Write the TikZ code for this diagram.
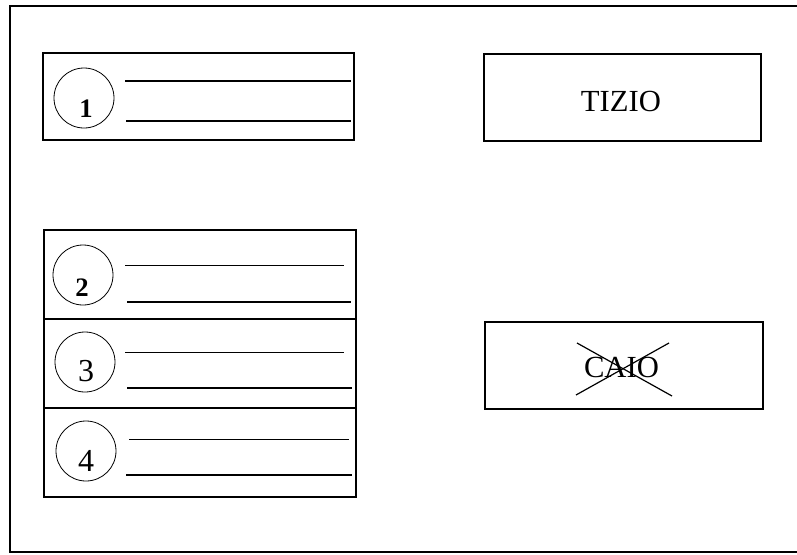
\documentclass[tikz,border=0pt]{standalone}
\usepackage{fontspec}
\setmainfont{Liberation Serif}
\usepackage{tikz}
\usetikzlibrary{positioning,calc}

\begin{document}
\begin{tikzpicture}[x=0.75pt, y=-0.75pt,
  frame/.style={line width=1.3pt},
  slot/.style={draw, rectangle, line width=1.1pt, inner sep=0pt},
  row/.style={slot, minimum width=234pt, minimum height=66.75pt},
  namebox/.style={slot, minimum width=208pt, minimum height=65.25pt, font=\fontsize{23}{27}\selectfont},
  ring/.style={draw, circle, line width=0.6pt, minimum size=45pt, inner sep=0pt},
  num/.style={inner sep=0pt, font=\fontsize{20}{24}\selectfont\bfseries},
  numr/.style={inner sep=0pt, font=\fontsize{24}{28}\selectfont},
  thin/.style={line width=0.5pt},
  bold/.style={line width=1.9pt}
]
\useasboundingbox (0,0) rectangle (797,554);
\draw[frame] (797,6) -- (10,6) -- (10,552) -- (797,552);

% single slot
\node[slot, minimum width=233.25pt, minimum height=65.25pt] (b1) at (198.5,96.5) {};
\node[ring] (c1) at (84,98) {};
\node[num] (n1) at (86,108.5) {1};
\draw[bold] (125,81) -- (351,81);
\draw[bold] (126,121) -- (351,121);

% stacked slots
\node[row] (b2) at (200,274.5) {};
\node[row] (b3) at (200,363.5) {};
\node[row] (b4) at (200,452.5) {};
\node[ring] (c2) at (83,275) {};
\node[ring] (c3) at (85,362) {};
\node[ring] (c4) at (86,451) {};
\node[num] (n2) at (82,288) {2};
\node[numr] (n3) at (86,371.5) {3};
\node[numr] (n4) at (86,461) {4};
\draw[thin] (125,265) -- (344,265);
\draw[bold] (127,302) -- (351,302);
\draw[thin] (125,352) -- (344,352);
\draw[bold] (127,388) -- (352,388);
\draw[thin] (129,439) -- (349,439);
\draw[bold] (126,475) -- (352,475);

% names
\node[namebox] (tizio) at (622.5,97.5) {};
\node[inner sep=0pt, font=\fontsize{23}{27}\selectfont] (t1) at (621,101) {TIZIO};
\node[namebox, minimum width=208.5pt] (caio) at (624,365.5) {};
\node[inner sep=0pt, font=\fontsize{23}{27}\selectfont] (t2) at (621.5,367.5) {CAIO};
\draw[line width=0.9pt] (577,343) -- (672,396);
\draw[line width=0.9pt] (576,395) -- (669,343);
\end{tikzpicture}
\end{document}
